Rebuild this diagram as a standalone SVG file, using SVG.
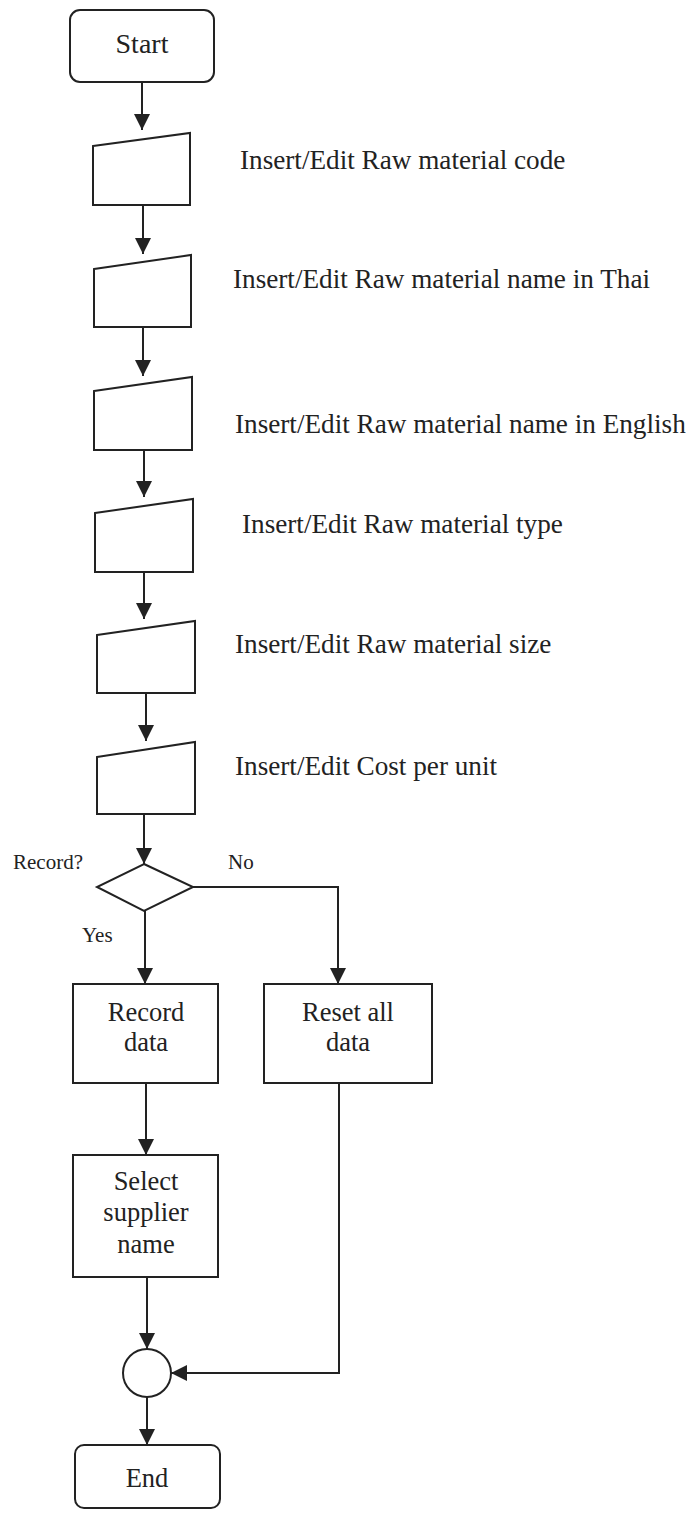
<svg xmlns="http://www.w3.org/2000/svg" width="686" height="1513" viewBox="0 0 686 1513">
<style>
.s{fill:none;stroke:#222;stroke-width:2}
.n{fill:#fff;stroke:#222;stroke-width:2}
.t{font-family:"Liberation Serif","Times New Roman",serif;font-size:26.5px;fill:#222}
.r{font-family:"Liberation Serif","Times New Roman",serif;font-size:27.2px;fill:#222}
.m{text-anchor:middle}
.l{font-family:"Liberation Serif","Times New Roman",serif;font-size:21px;fill:#222}
</style>
<defs>
<marker id="a" markerUnits="userSpaceOnUse" markerWidth="16" markerHeight="16" refX="16" refY="8" orient="auto">
<path d="M0,0 L16,8 L0,16 z" fill="#222"/>
</marker>
</defs>
<rect width="686" height="1513" fill="#fff"/>
<g id="connectors">
<path class="s" d="M142,82 V130" marker-end="url(#a)"/>
<path class="s" d="M143,205 V254" marker-end="url(#a)"/>
<path class="s" d="M143,327 V376" marker-end="url(#a)"/>
<path class="s" d="M144,450 V497" marker-end="url(#a)"/>
<path class="s" d="M144,572 V619" marker-end="url(#a)"/>
<path class="s" d="M146,693 V741" marker-end="url(#a)"/>
<path class="s" d="M144,814 V864" marker-end="url(#a)"/>
<path class="s" d="M145,911 V984" marker-end="url(#a)"/>
<path class="s" d="M193,887 H338 V984" marker-end="url(#a)"/>
<path class="s" d="M146,1083 V1155" marker-end="url(#a)"/>
<path class="s" d="M147,1277 V1349" marker-end="url(#a)"/>
<path class="s" d="M339,1083 V1373 H171" marker-end="url(#a)"/>
<path class="s" d="M147,1397 V1445" marker-end="url(#a)"/>
</g>
<g id="start">
<rect class="n" x="70" y="10" width="144" height="72" rx="10"/>
<text class="t m" x="142" y="53" style="font-size:28px">Start</text>
</g>
<g id="input1">
<path class="n" d="M93,146 L190,133 V205 H93 z"/>
<text class="r" x="240" y="169">Insert/Edit Raw material code</text>
</g>
<g id="input2">
<path class="n" d="M94,269 L191,255 V327 H94 z"/>
<text class="r" x="233" y="288">Insert/Edit Raw material name in Thai</text>
</g>
<g id="input3">
<path class="n" d="M94,391 L192,377 V450 H94 z"/>
<text class="r" x="235" y="433">Insert/Edit Raw material name in English</text>
</g>
<g id="input4">
<path class="n" d="M95,513 L193,499 V572 H95 z"/>
<text class="r" x="242" y="533">Insert/Edit Raw material type</text>
</g>
<g id="input5">
<path class="n" d="M97,635 L195,621 V693 H97 z"/>
<text class="r" x="235" y="653">Insert/Edit Raw material size</text>
</g>
<g id="input6">
<path class="n" d="M97,757 L195,742 V814 H97 z"/>
<text class="r" x="235" y="775">Insert/Edit Cost per unit</text>
</g>
<g id="decision">
<path class="n" d="M144,864 L193,887 L144,911 L97,887 z"/>
<text class="l" x="13" y="869">Record?</text>
<text class="l" x="228" y="869">No</text>
<text class="l" x="82" y="942">Yes</text>
</g>
<g id="record">
<rect class="n" x="73" y="984" width="145" height="99"/>
<text class="t m" x="146" y="1021">Record</text>
<text class="t m" x="146" y="1051">data</text>
</g>
<g id="reset">
<rect class="n" x="264" y="984" width="168" height="99"/>
<text class="t m" x="348" y="1021">Reset all</text>
<text class="t m" x="348" y="1051">data</text>
</g>
<g id="select">
<rect class="n" x="73" y="1155" width="145" height="122"/>
<text class="t m" x="146" y="1190">Select</text>
<text class="t m" x="146" y="1221">supplier</text>
<text class="t m" x="146" y="1253">name</text>
</g>
<g id="merge">
<circle class="n" cx="147" cy="1373" r="24"/>
</g>
<g id="end">
<rect class="n" x="75" y="1445" width="145" height="63" rx="9"/>
<text class="t m" x="147" y="1487">End</text>
</g>
</svg>
